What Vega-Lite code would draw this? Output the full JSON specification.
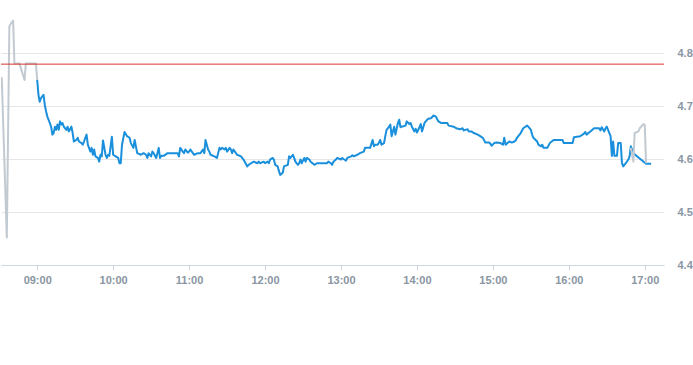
{
  "width": 663,
  "height": 265,
  "padding": 0,
  "background": "white",
  "config": {"view": {"stroke": null}},
  "layer": [
    {
      "data": {"values": [
        {"m": 511, "v": 4.745, "s": "pre"},
        {"m": 512, "v": 4.753, "s": "pre"},
        {"m": 516, "v": 4.452, "s": "pre"},
        {"m": 518, "v": 4.850, "s": "pre"},
        {"m": 519, "v": 4.855, "s": "pre"},
        {"m": 521, "v": 4.861, "s": "pre"},
        {"m": 522, "v": 4.780, "s": "pre"},
        {"m": 526, "v": 4.780, "s": "pre"},
        {"m": 530, "v": 4.749, "s": "pre"},
        {"m": 531, "v": 4.780, "s": "pre"},
        {"m": 539, "v": 4.780, "s": "pre"},
        {"m": 540, "v": 4.749, "s": "pre"},
        {"m": 540, "v": 4.749, "s": "main"},
        {"m": 541, "v": 4.721, "s": "main"},
        {"m": 542, "v": 4.708, "s": "main"},
        {"m": 543, "v": 4.715, "s": "main"},
        {"m": 544, "v": 4.718, "s": "main"},
        {"m": 545, "v": 4.721, "s": "main"},
        {"m": 546, "v": 4.702, "s": "main"},
        {"m": 547, "v": 4.690, "s": "main"},
        {"m": 548, "v": 4.680, "s": "main"},
        {"m": 549, "v": 4.674, "s": "main"},
        {"m": 551, "v": 4.661, "s": "main"},
        {"m": 552, "v": 4.646, "s": "main"},
        {"m": 553, "v": 4.649, "s": "main"},
        {"m": 554, "v": 4.661, "s": "main"},
        {"m": 555, "v": 4.655, "s": "main"},
        {"m": 556, "v": 4.665, "s": "main"},
        {"m": 557, "v": 4.655, "s": "main"},
        {"m": 558, "v": 4.671, "s": "main"},
        {"m": 559, "v": 4.665, "s": "main"},
        {"m": 560, "v": 4.668, "s": "main"},
        {"m": 561, "v": 4.661, "s": "main"},
        {"m": 563, "v": 4.655, "s": "main"},
        {"m": 564, "v": 4.661, "s": "main"},
        {"m": 565, "v": 4.652, "s": "main"},
        {"m": 567, "v": 4.661, "s": "main"},
        {"m": 568, "v": 4.649, "s": "main"},
        {"m": 569, "v": 4.633, "s": "main"},
        {"m": 571, "v": 4.636, "s": "main"},
        {"m": 572, "v": 4.640, "s": "main"},
        {"m": 573, "v": 4.633, "s": "main"},
        {"m": 575, "v": 4.630, "s": "main"},
        {"m": 576, "v": 4.627, "s": "main"},
        {"m": 577, "v": 4.633, "s": "main"},
        {"m": 578, "v": 4.640, "s": "main"},
        {"m": 579, "v": 4.646, "s": "main"},
        {"m": 580, "v": 4.627, "s": "main"},
        {"m": 582, "v": 4.614, "s": "main"},
        {"m": 583, "v": 4.621, "s": "main"},
        {"m": 584, "v": 4.608, "s": "main"},
        {"m": 585, "v": 4.618, "s": "main"},
        {"m": 586, "v": 4.605, "s": "main"},
        {"m": 588, "v": 4.602, "s": "main"},
        {"m": 589, "v": 4.595, "s": "main"},
        {"m": 590, "v": 4.608, "s": "main"},
        {"m": 591, "v": 4.605, "s": "main"},
        {"m": 592, "v": 4.635, "s": "main"},
        {"m": 594, "v": 4.608, "s": "main"},
        {"m": 595, "v": 4.602, "s": "main"},
        {"m": 596, "v": 4.608, "s": "main"},
        {"m": 597, "v": 4.606, "s": "main"},
        {"m": 599, "v": 4.642, "s": "main"},
        {"m": 600, "v": 4.608, "s": "main"},
        {"m": 602, "v": 4.605, "s": "main"},
        {"m": 604, "v": 4.602, "s": "main"},
        {"m": 605, "v": 4.592, "s": "main"},
        {"m": 606, "v": 4.592, "s": "main"},
        {"m": 607, "v": 4.627, "s": "main"},
        {"m": 609, "v": 4.651, "s": "main"},
        {"m": 611, "v": 4.643, "s": "main"},
        {"m": 613, "v": 4.640, "s": "main"},
        {"m": 614, "v": 4.630, "s": "main"},
        {"m": 616, "v": 4.621, "s": "main"},
        {"m": 617, "v": 4.636, "s": "main"},
        {"m": 619, "v": 4.611, "s": "main"},
        {"m": 622, "v": 4.608, "s": "main"},
        {"m": 624, "v": 4.611, "s": "main"},
        {"m": 626, "v": 4.608, "s": "main"},
        {"m": 627, "v": 4.602, "s": "main"},
        {"m": 628, "v": 4.611, "s": "main"},
        {"m": 630, "v": 4.605, "s": "main"},
        {"m": 631, "v": 4.614, "s": "main"},
        {"m": 632, "v": 4.611, "s": "main"},
        {"m": 634, "v": 4.602, "s": "main"},
        {"m": 636, "v": 4.621, "s": "main"},
        {"m": 637, "v": 4.602, "s": "main"},
        {"m": 638, "v": 4.606, "s": "main"},
        {"m": 640, "v": 4.606, "s": "main"},
        {"m": 643, "v": 4.611, "s": "main"},
        {"m": 651, "v": 4.611, "s": "main"},
        {"m": 652, "v": 4.605, "s": "main"},
        {"m": 653, "v": 4.621, "s": "main"},
        {"m": 655, "v": 4.614, "s": "main"},
        {"m": 656, "v": 4.611, "s": "main"},
        {"m": 657, "v": 4.618, "s": "main"},
        {"m": 659, "v": 4.612, "s": "main"},
        {"m": 660, "v": 4.614, "s": "main"},
        {"m": 661, "v": 4.618, "s": "main"},
        {"m": 663, "v": 4.611, "s": "main"},
        {"m": 664, "v": 4.608, "s": "main"},
        {"m": 667, "v": 4.611, "s": "main"},
        {"m": 669, "v": 4.611, "s": "main"},
        {"m": 671, "v": 4.618, "s": "main"},
        {"m": 672, "v": 4.611, "s": "main"},
        {"m": 673, "v": 4.636, "s": "main"},
        {"m": 675, "v": 4.618, "s": "main"},
        {"m": 676, "v": 4.614, "s": "main"},
        {"m": 677, "v": 4.608, "s": "main"},
        {"m": 680, "v": 4.605, "s": "main"},
        {"m": 682, "v": 4.602, "s": "main"},
        {"m": 684, "v": 4.621, "s": "main"},
        {"m": 685, "v": 4.618, "s": "main"},
        {"m": 686, "v": 4.621, "s": "main"},
        {"m": 688, "v": 4.618, "s": "main"},
        {"m": 689, "v": 4.621, "s": "main"},
        {"m": 690, "v": 4.614, "s": "main"},
        {"m": 692, "v": 4.621, "s": "main"},
        {"m": 693, "v": 4.618, "s": "main"},
        {"m": 694, "v": 4.611, "s": "main"},
        {"m": 695, "v": 4.618, "s": "main"},
        {"m": 697, "v": 4.611, "s": "main"},
        {"m": 698, "v": 4.608, "s": "main"},
        {"m": 701, "v": 4.605, "s": "main"},
        {"m": 703, "v": 4.599, "s": "main"},
        {"m": 706, "v": 4.586, "s": "main"},
        {"m": 707, "v": 4.589, "s": "main"},
        {"m": 709, "v": 4.592, "s": "main"},
        {"m": 711, "v": 4.595, "s": "main"},
        {"m": 714, "v": 4.592, "s": "main"},
        {"m": 715, "v": 4.595, "s": "main"},
        {"m": 716, "v": 4.592, "s": "main"},
        {"m": 719, "v": 4.595, "s": "main"},
        {"m": 720, "v": 4.592, "s": "main"},
        {"m": 722, "v": 4.595, "s": "main"},
        {"m": 723, "v": 4.592, "s": "main"},
        {"m": 724, "v": 4.599, "s": "main"},
        {"m": 726, "v": 4.602, "s": "main"},
        {"m": 727, "v": 4.599, "s": "main"},
        {"m": 728, "v": 4.589, "s": "main"},
        {"m": 730, "v": 4.586, "s": "main"},
        {"m": 731, "v": 4.577, "s": "main"},
        {"m": 732, "v": 4.570, "s": "main"},
        {"m": 734, "v": 4.574, "s": "main"},
        {"m": 735, "v": 4.586, "s": "main"},
        {"m": 738, "v": 4.589, "s": "main"},
        {"m": 739, "v": 4.605, "s": "main"},
        {"m": 740, "v": 4.602, "s": "main"},
        {"m": 742, "v": 4.608, "s": "main"},
        {"m": 743, "v": 4.602, "s": "main"},
        {"m": 744, "v": 4.595, "s": "main"},
        {"m": 746, "v": 4.589, "s": "main"},
        {"m": 747, "v": 4.592, "s": "main"},
        {"m": 748, "v": 4.599, "s": "main"},
        {"m": 749, "v": 4.592, "s": "main"},
        {"m": 751, "v": 4.602, "s": "main"},
        {"m": 752, "v": 4.595, "s": "main"},
        {"m": 753, "v": 4.602, "s": "main"},
        {"m": 755, "v": 4.599, "s": "main"},
        {"m": 756, "v": 4.595, "s": "main"},
        {"m": 759, "v": 4.589, "s": "main"},
        {"m": 761, "v": 4.592, "s": "main"},
        {"m": 764, "v": 4.592, "s": "main"},
        {"m": 767, "v": 4.592, "s": "main"},
        {"m": 769, "v": 4.592, "s": "main"},
        {"m": 770, "v": 4.595, "s": "main"},
        {"m": 772, "v": 4.592, "s": "main"},
        {"m": 773, "v": 4.589, "s": "main"},
        {"m": 774, "v": 4.595, "s": "main"},
        {"m": 776, "v": 4.599, "s": "main"},
        {"m": 777, "v": 4.602, "s": "main"},
        {"m": 780, "v": 4.599, "s": "main"},
        {"m": 781, "v": 4.602, "s": "main"},
        {"m": 782, "v": 4.600, "s": "main"},
        {"m": 784, "v": 4.597, "s": "main"},
        {"m": 785, "v": 4.602, "s": "main"},
        {"m": 788, "v": 4.605, "s": "main"},
        {"m": 789, "v": 4.607, "s": "main"},
        {"m": 790, "v": 4.605, "s": "main"},
        {"m": 793, "v": 4.608, "s": "main"},
        {"m": 795, "v": 4.611, "s": "main"},
        {"m": 798, "v": 4.614, "s": "main"},
        {"m": 799, "v": 4.621, "s": "main"},
        {"m": 803, "v": 4.621, "s": "main"},
        {"m": 805, "v": 4.636, "s": "main"},
        {"m": 806, "v": 4.624, "s": "main"},
        {"m": 807, "v": 4.627, "s": "main"},
        {"m": 809, "v": 4.627, "s": "main"},
        {"m": 810, "v": 4.631, "s": "main"},
        {"m": 811, "v": 4.636, "s": "main"},
        {"m": 812, "v": 4.627, "s": "main"},
        {"m": 814, "v": 4.630, "s": "main"},
        {"m": 815, "v": 4.643, "s": "main"},
        {"m": 816, "v": 4.655, "s": "main"},
        {"m": 817, "v": 4.658, "s": "main"},
        {"m": 818, "v": 4.661, "s": "main"},
        {"m": 819, "v": 4.665, "s": "main"},
        {"m": 820, "v": 4.643, "s": "main"},
        {"m": 822, "v": 4.661, "s": "main"},
        {"m": 823, "v": 4.646, "s": "main"},
        {"m": 825, "v": 4.668, "s": "main"},
        {"m": 826, "v": 4.674, "s": "main"},
        {"m": 827, "v": 4.660, "s": "main"},
        {"m": 828, "v": 4.661, "s": "main"},
        {"m": 831, "v": 4.663, "s": "main"},
        {"m": 832, "v": 4.671, "s": "main"},
        {"m": 834, "v": 4.666, "s": "main"},
        {"m": 835, "v": 4.668, "s": "main"},
        {"m": 836, "v": 4.661, "s": "main"},
        {"m": 838, "v": 4.652, "s": "main"},
        {"m": 839, "v": 4.657, "s": "main"},
        {"m": 840, "v": 4.650, "s": "main"},
        {"m": 842, "v": 4.660, "s": "main"},
        {"m": 843, "v": 4.666, "s": "main"},
        {"m": 844, "v": 4.652, "s": "main"},
        {"m": 846, "v": 4.668, "s": "main"},
        {"m": 847, "v": 4.671, "s": "main"},
        {"m": 848, "v": 4.674, "s": "main"},
        {"m": 849, "v": 4.676, "s": "main"},
        {"m": 851, "v": 4.677, "s": "main"},
        {"m": 852, "v": 4.679, "s": "main"},
        {"m": 853, "v": 4.682, "s": "main"},
        {"m": 855, "v": 4.680, "s": "main"},
        {"m": 856, "v": 4.675, "s": "main"},
        {"m": 857, "v": 4.671, "s": "main"},
        {"m": 859, "v": 4.668, "s": "main"},
        {"m": 864, "v": 4.668, "s": "main"},
        {"m": 865, "v": 4.663, "s": "main"},
        {"m": 869, "v": 4.661, "s": "main"},
        {"m": 871, "v": 4.658, "s": "main"},
        {"m": 874, "v": 4.656, "s": "main"},
        {"m": 876, "v": 4.658, "s": "main"},
        {"m": 877, "v": 4.654, "s": "main"},
        {"m": 880, "v": 4.656, "s": "main"},
        {"m": 881, "v": 4.652, "s": "main"},
        {"m": 883, "v": 4.652, "s": "main"},
        {"m": 885, "v": 4.649, "s": "main"},
        {"m": 888, "v": 4.646, "s": "main"},
        {"m": 890, "v": 4.643, "s": "main"},
        {"m": 892, "v": 4.640, "s": "main"},
        {"m": 893, "v": 4.636, "s": "main"},
        {"m": 894, "v": 4.631, "s": "main"},
        {"m": 897, "v": 4.631, "s": "main"},
        {"m": 898, "v": 4.629, "s": "main"},
        {"m": 899, "v": 4.625, "s": "main"},
        {"m": 901, "v": 4.630, "s": "main"},
        {"m": 903, "v": 4.631, "s": "main"},
        {"m": 906, "v": 4.630, "s": "main"},
        {"m": 908, "v": 4.627, "s": "main"},
        {"m": 909, "v": 4.640, "s": "main"},
        {"m": 910, "v": 4.627, "s": "main"},
        {"m": 911, "v": 4.629, "s": "main"},
        {"m": 913, "v": 4.633, "s": "main"},
        {"m": 915, "v": 4.631, "s": "main"},
        {"m": 917, "v": 4.633, "s": "main"},
        {"m": 918, "v": 4.635, "s": "main"},
        {"m": 919, "v": 4.640, "s": "main"},
        {"m": 922, "v": 4.649, "s": "main"},
        {"m": 924, "v": 4.658, "s": "main"},
        {"m": 927, "v": 4.663, "s": "main"},
        {"m": 928, "v": 4.661, "s": "main"},
        {"m": 930, "v": 4.655, "s": "main"},
        {"m": 931, "v": 4.646, "s": "main"},
        {"m": 932, "v": 4.640, "s": "main"},
        {"m": 935, "v": 4.633, "s": "main"},
        {"m": 936, "v": 4.627, "s": "main"},
        {"m": 938, "v": 4.624, "s": "main"},
        {"m": 939, "v": 4.627, "s": "main"},
        {"m": 940, "v": 4.621, "s": "main"},
        {"m": 943, "v": 4.621, "s": "main"},
        {"m": 945, "v": 4.630, "s": "main"},
        {"m": 948, "v": 4.636, "s": "main"},
        {"m": 955, "v": 4.636, "s": "main"},
        {"m": 956, "v": 4.630, "s": "main"},
        {"m": 963, "v": 4.630, "s": "main"},
        {"m": 964, "v": 4.641, "s": "main"},
        {"m": 969, "v": 4.643, "s": "main"},
        {"m": 972, "v": 4.648, "s": "main"},
        {"m": 973, "v": 4.651, "s": "main"},
        {"m": 974, "v": 4.646, "s": "main"},
        {"m": 976, "v": 4.650, "s": "main"},
        {"m": 977, "v": 4.652, "s": "main"},
        {"m": 980, "v": 4.658, "s": "main"},
        {"m": 984, "v": 4.658, "s": "main"},
        {"m": 985, "v": 4.654, "s": "main"},
        {"m": 986, "v": 4.660, "s": "main"},
        {"m": 988, "v": 4.652, "s": "main"},
        {"m": 989, "v": 4.658, "s": "main"},
        {"m": 990, "v": 4.661, "s": "main"},
        {"m": 991, "v": 4.655, "s": "main"},
        {"m": 992, "v": 4.649, "s": "main"},
        {"m": 993, "v": 4.643, "s": "main"},
        {"m": 994, "v": 4.606, "s": "main"},
        {"m": 995, "v": 4.633, "s": "main"},
        {"m": 996, "v": 4.606, "s": "main"},
        {"m": 998, "v": 4.606, "s": "main"},
        {"m": 999, "v": 4.630, "s": "main"},
        {"m": 1001, "v": 4.630, "s": "main"},
        {"m": 1002, "v": 4.592, "s": "main"},
        {"m": 1003, "v": 4.586, "s": "main"},
        {"m": 1005, "v": 4.592, "s": "main"},
        {"m": 1007, "v": 4.599, "s": "main"},
        {"m": 1008, "v": 4.605, "s": "main"},
        {"m": 1009, "v": 4.624, "s": "main"},
        {"m": 1011, "v": 4.611, "s": "main"},
        {"m": 1021, "v": 4.591, "s": "main"},
        {"m": 1025, "v": 4.591, "s": "main"},
        {"m": 1009, "v": 4.621, "s": "post"},
        {"m": 1011, "v": 4.595, "s": "post"},
        {"m": 1012, "v": 4.649, "s": "post"},
        {"m": 1015, "v": 4.652, "s": "post"},
        {"m": 1016, "v": 4.658, "s": "post"},
        {"m": 1019, "v": 4.666, "s": "post"},
        {"m": 1020, "v": 4.664, "s": "post"},
        {"m": 1021, "v": 4.592, "s": "post"}
      ]},
      "mark": {"type": "line", "strokeWidth": 2, "clip": true, "strokeJoin": "round"},
      "encoding": {
        "x": {
          "field": "m",
          "type": "quantitative",
          "scale": {"domain": [511.4, 1035.2], "nice": false, "zero": false},
          "axis": {
            "title": null,
            "values": [540, 600, 660, 720, 780, 840, 900, 960, 1020],
            "labelExpr": "pad(floor(datum.value / 60) + '', 2, '0', 'left') + ':00'",
            "grid": false,
            "domainColor": "#ccd6e0",
            "tickColor": "#ccd6e0",
            "tickSize": 5,
            "labelColor": "#8a96a3",
            "labelFont": "Liberation Sans",
            "labelFontWeight": "bold",
            "labelFontSize": 11,
            "labelPadding": 4
          }
        },
        "y": {
          "field": "v",
          "type": "quantitative",
          "scale": {"domain": [4.4, 4.9], "nice": false, "zero": false},
          "axis": {
            "title": null,
            "orient": "right",
            "values": [4.4, 4.5, 4.6, 4.7, 4.8],
            "format": ".1f",
            "domain": false,
            "ticks": false,
            "gridColor": "#e6e6e6",
            "labelColor": "#8a96a3",
            "labelFont": "Liberation Sans",
            "labelFontWeight": "bold",
            "labelFontSize": 11,
            "labelPadding": 13
          }
        },
        "color": {
          "field": "s",
          "type": "nominal",
          "scale": {"domain": ["main", "pre", "post"], "range": ["#1a8fdc", "#c2cad1", "#c2cad1"]},
          "legend": null
        }
      }
    },
    {
      "data": {"values": [{"level": 4.779}]},
      "mark": {"type": "rule", "color": "#d9332b", "strokeWidth": 1},
      "encoding": {"y": {"field": "level", "type": "quantitative"}}
    }
  ]
}
